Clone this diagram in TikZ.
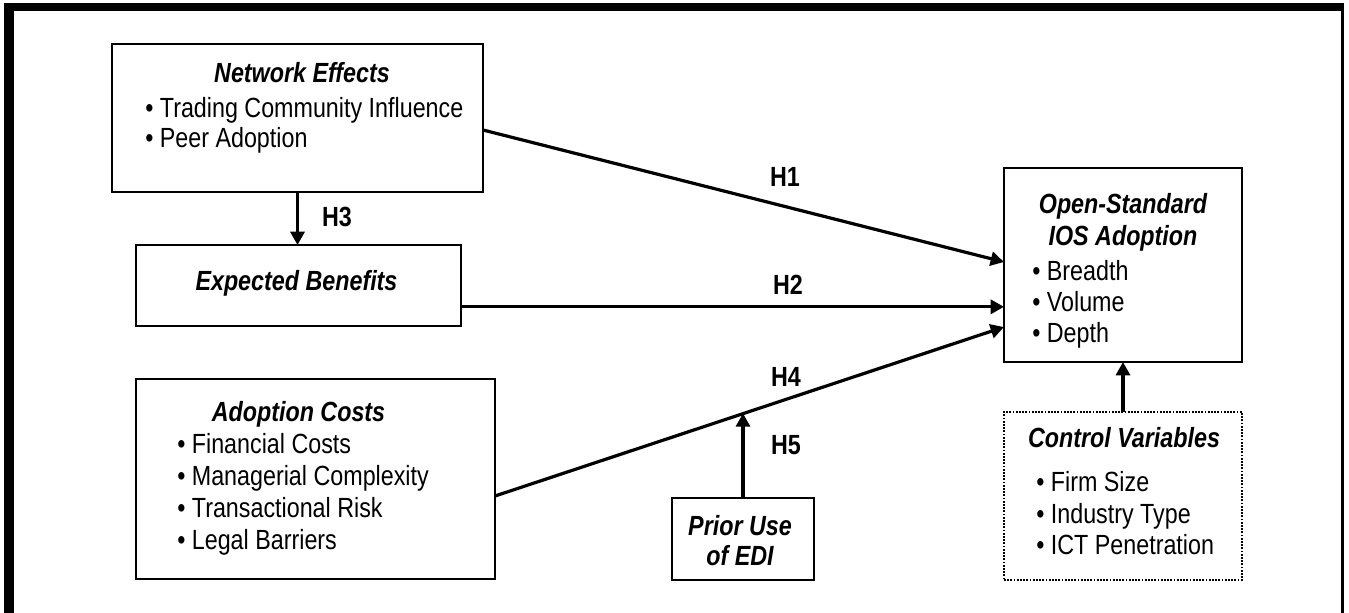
\documentclass[tikz,border=0pt]{standalone}
\usepackage{fontspec}
\setmainfont[FakeStretch=0.84]{Liberation Sans}
\usetikzlibrary{arrows.meta}

\tikzset{
  box/.style={draw, line width=1.4pt, inner sep=0pt, outer sep=0pt},
  head/.style={font=\bfseries\itshape, anchor=base, inner sep=0pt},
  item/.style={anchor=base west, inner sep=0pt},
  hyp/.style={font=\bfseries, inner sep=0pt},
  arr/.style={line width=2.4pt, -{Triangle[length=10pt,width=10.5pt]}},
}

\begin{document}
\fontsize{20.8pt}{24pt}\selectfont
\begin{tikzpicture}[x=0.75pt, y=-0.75pt]
  \useasboundingbox (0,0) rectangle (1349,613);
  % frame
  \fill (4,3) rectangle (1344,11);
  \fill (4,3) rectangle (14,613);
  \fill (1341,3) rectangle (1344,613);

  % boxes
  \node[box, minimum width=278.25pt, minimum height=111pt] (net) at (297.5,118) {};
  \node[box, minimum width=243.75pt, minimum height=60.75pt] (exp) at (298.5,285.5) {};
  \node[box, minimum width=269.25pt, minimum height=150pt] (adopt) at (315.5,479) {};
  \node[box, minimum width=106.5pt, minimum height=61.5pt] (prior) at (743,539) {};
  \node[box, minimum width=178.5pt, minimum height=145.5pt] (open) at (1123,265) {};
  \node[box, densely dotted, line width=1.8pt, minimum width=178.5pt, minimum height=126pt] (ctrl) at (1123,496) {};

  % texts
  \node[head] (net-t) at (302,83) {Network Effects};
  \foreach \t [count=\i] in {Trading Community Influence, Peer Adoption}
    \node[item] (net-\i) at (145,{88+30*\i}) {• \t};
  \node[head] (exp-t) at (296.5,290) {Expected Benefits};
  \node[head] (adopt-t) at (298.5,421) {Adoption Costs};
  \foreach \t [count=\i] in {Financial Costs, Managerial Complexity, Transactional Risk, Legal Barriers}
    \node[item] (adopt-\i) at (177,{421+32*\i}) {• \t};
  \node[head] (prior-t1) at (740,535) {Prior Use};
  \node[head] (prior-t2) at (740,565) {of EDI};
  \node[head] (open-t1) at (1123,214) {Open-Standard};
  \node[head] (open-t2) at (1123,245) {IOS Adoption};
  \foreach \t [count=\i] in {Breadth, Volume, Depth}
    \node[item] (open-\i) at (1032,{249+31*\i}) {• \t};
  \node[head] (ctrl-t) at (1124,447) {Control Variables};
  \foreach \t [count=\i] in {Firm Size, Industry Type, ICT Penetration}
    \node[item] (ctrl-\i) at (1036,{460+31.5*\i}) {• \t};

  % paths
  \draw[arr] ([yshift=-9pt]net.east) -- ([yshift=2.25pt]open.west);
  \draw[arr] (net.south) -- (net.south |- exp.north);
  \draw[arr] ([yshift=-16pt]exp.east) -- ([yshift=-16pt]exp.east -| open.west);
  \draw[arr] ([yshift=-12.75pt]adopt.east) -- coordinate[pos=0.489] (mod) ([yshift=-46.5pt]open.west);
  \draw[arr] (prior.north) -- (prior.north |- mod);
  \draw[arr] (ctrl.north) -- (open.south);

  \node[hyp] (h1) at (785,177) {H1};
  \node[hyp] (h2) at (788,285) {H2};
  \node[hyp] (h3) at (337,217) {H3};
  \node[hyp] (h4) at (786,377) {H4};
  \node[hyp] (h5) at (786,445) {H5};
\end{tikzpicture}
\end{document}
